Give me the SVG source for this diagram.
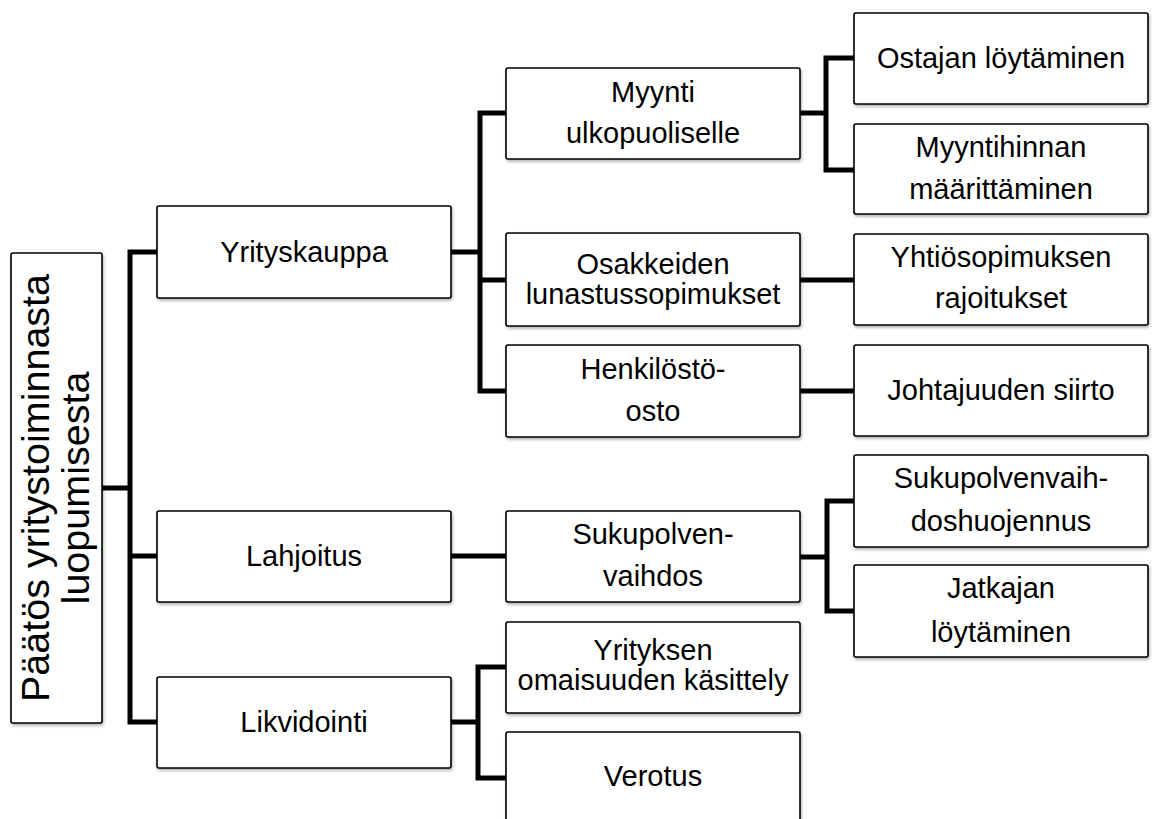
<svg xmlns="http://www.w3.org/2000/svg" width="1152" height="819" viewBox="0 0 1152 819">
<defs>
<filter id="sh" x="-5%" y="-10%" width="115%" height="130%">
<feDropShadow dx="1" dy="2" stdDeviation="1.5" flood-color="#000" flood-opacity="0.3"/>
</filter>
<style>
.box{fill:#fff;stroke:#000;stroke-width:1.6;filter:url(#sh)}
.t{font-family:"Liberation Sans",Arial,sans-serif;font-size:29px;fill:#000;text-anchor:middle}
.root{font-family:"Liberation Sans",Arial,sans-serif;font-size:39.5px;fill:#000;text-anchor:middle}
.c{fill:none;stroke:#000;stroke-width:5;stroke-linecap:square;stroke-linejoin:miter}
</style>
</defs>
<rect width="1152" height="819" fill="#fff"/>
<g id="connectors">
<path class="c" d="M102,488 H130 M130,252 V722 M130,252 H157 M130,556 H157 M130,722 H157"/>
<path class="c" d="M451,252 H480 M480,113 V391 M480,113 H506 M480,280 H506 M480,391 H506"/>
<path class="c" d="M800,113 H826 M826,58 V170 M826,58 H854 M826,170 H854"/>
<path class="c" d="M800,280 H854"/>
<path class="c" d="M800,391 H854"/>
<path class="c" d="M451,556 H506"/>
<path class="c" d="M800,557 H827 M827,501 V611 M827,501 H854 M827,611 H854"/>
<path class="c" d="M451,722 H478 M478,667 V778 M478,667 H506 M478,778 H506"/>
</g>
<g id="root">
<rect class="box" x="11" y="253" width="91" height="470" rx="2"/>
<text class="root" transform="translate(49,488) rotate(-90)"><tspan x="0" y="0">Päätös yritystoiminnasta</tspan><tspan x="0" y="40">luopumisesta</tspan></text>
</g>
<g id="yrityskauppa">
<rect class="box" x="157" y="206" width="294" height="92" rx="2"/>
<text class="t" x="304" y="262">Yrityskauppa</text>
</g>
<g id="lahjoitus">
<rect class="box" x="157" y="511" width="294" height="91" rx="2"/>
<text class="t" x="304" y="566">Lahjoitus</text>
</g>
<g id="likvidointi">
<rect class="box" x="157" y="677" width="294" height="91" rx="2"/>
<text class="t" x="304" y="732">Likvidointi</text>
</g>
<g id="myynti">
<rect class="box" x="506" y="68" width="294" height="91" rx="2"/>
<text class="t" x="653" y="102">Myynti</text>
<text class="t" x="653" y="143">ulkopuoliselle</text>
</g>
<g id="osakkeiden">
<rect class="box" x="506" y="233" width="294" height="93" rx="2"/>
<text class="t" x="653" y="274">Osakkeiden</text>
<text class="t" x="653" y="304">lunastussopimukset</text>
</g>
<g id="henkilosto">
<rect class="box" x="506" y="345" width="294" height="92" rx="2"/>
<text class="t" x="653" y="379">Henkilöstö-</text>
<text class="t" x="653" y="421">osto</text>
</g>
<g id="sukupolvenvaihdos">
<rect class="box" x="506" y="511" width="294" height="91" rx="2"/>
<text class="t" x="653" y="544">Sukupolven-</text>
<text class="t" x="653" y="586">vaihdos</text>
</g>
<g id="yrityksen">
<rect class="box" x="506" y="622" width="294" height="91" rx="2"/>
<text class="t" x="653" y="660">Yrityksen</text>
<text class="t" x="653" y="690">omaisuuden käsittely</text>
</g>
<g id="verotus">
<rect class="box" x="506" y="732" width="294" height="92" rx="2"/>
<text class="t" x="653" y="786">Verotus</text>
</g>
<g id="ostajan">
<rect class="box" x="854" y="13" width="294" height="91" rx="2"/>
<text class="t" x="1001" y="68">Ostajan löytäminen</text>
</g>
<g id="myyntihinnan">
<rect class="box" x="854" y="124" width="294" height="90" rx="2"/>
<text class="t" x="1001" y="157">Myyntihinnan</text>
<text class="t" x="1001" y="199">määrittäminen</text>
</g>
<g id="yhtiosopimuksen">
<rect class="box" x="854" y="234" width="294" height="91" rx="2"/>
<text class="t" x="1001" y="267">Yhtiösopimuksen</text>
<text class="t" x="1001" y="308">rajoitukset</text>
</g>
<g id="johtajuuden">
<rect class="box" x="854" y="345" width="294" height="91" rx="2"/>
<text class="t" x="1001" y="400">Johtajuuden siirto</text>
</g>
<g id="sukupolvenvaihdoshuojennus">
<rect class="box" x="854" y="455" width="294" height="92" rx="2"/>
<text class="t" x="1001" y="488">Sukupolvenvaih-</text>
<text class="t" x="1001" y="531">doshuojennus</text>
</g>
<g id="jatkajan">
<rect class="box" x="854" y="565" width="294" height="92" rx="2"/>
<text class="t" x="1001" y="598">Jatkajan</text>
<text class="t" x="1001" y="642">löytäminen</text>
</g>
</svg>
